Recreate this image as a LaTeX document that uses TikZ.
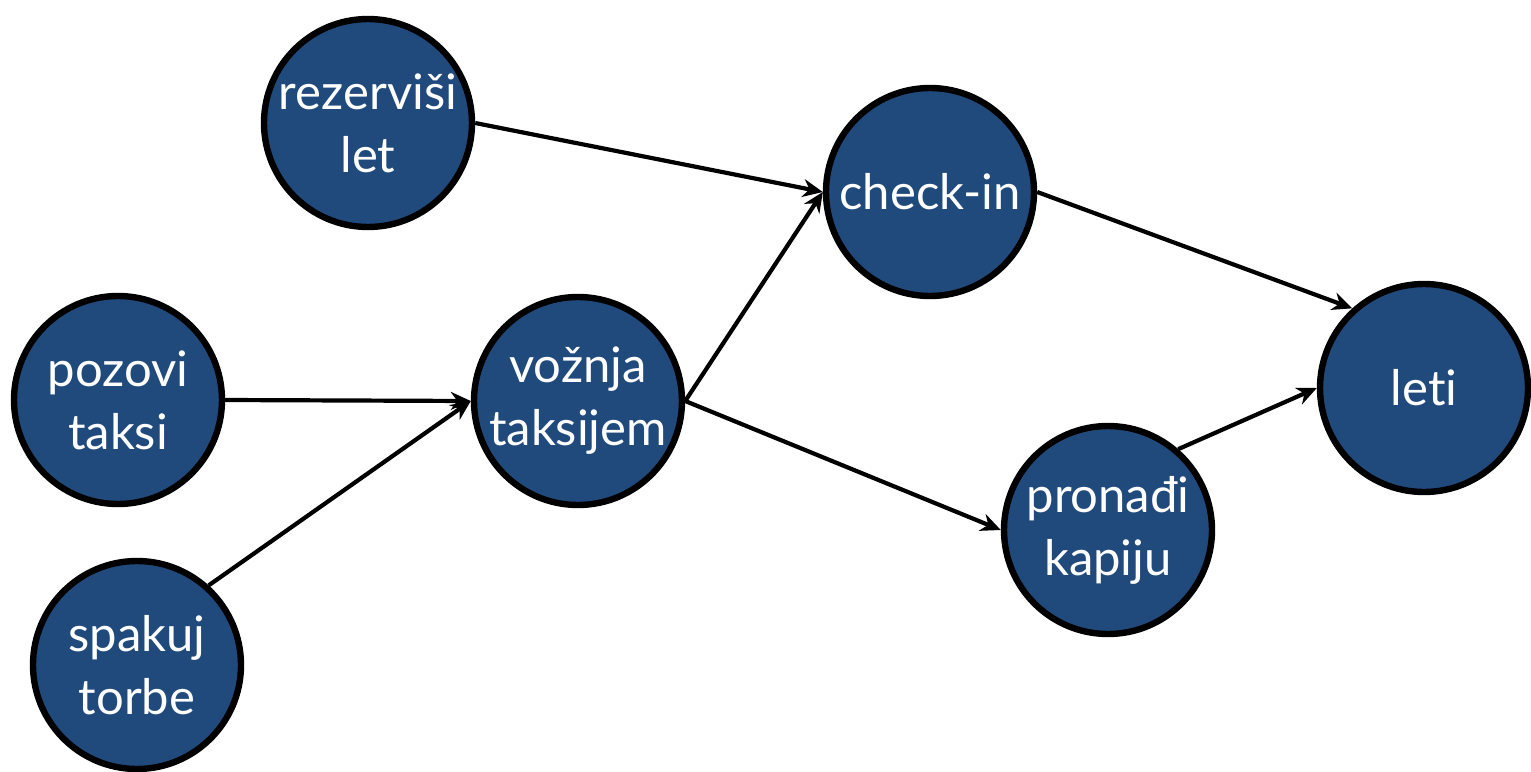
\documentclass[tikz,border=0pt]{standalone}
\usepackage{fontspec}
\setmainfont{Lato}[Ligatures=NoCommon]
\usetikzlibrary{arrows.meta}
\definecolor{taskblue}{RGB}{33,74,124}
\tikzset{
  task/.style={circle, draw=black, line width=3.2pt, fill=taskblue,
    minimum size=104pt, inner sep=0pt, text=white, align=center,
    font=\fontsize{24.5}{31.5}\selectfont},
  link/.style={line width=2.1pt, -{Stealth[length=10pt,width=9pt]}}
}
\begin{document}
\begin{tikzpicture}[x=0.5pt,y=-0.5pt]
  \useasboundingbox (0,0) rectangle (1531,771);
  % activities
  \node[task] (rez) at (368,123) {rezerviši\\let};
  \node[task] (chk) at (930,192) {check-in};
  \node[task] (leti) at (1424,388) {leti};
  \node[task] (poz) at (118,400) {pozovi\\taksi};
  \node[task] (voz) at (578,401) {vožnja\\taksijem};
  \node[task] (pro) at (1108,530) {pronađi\\kapiju};
  \node[task] (spa) at (137,665) {spakuj\\torbe};
  % dependencies
  \draw[link] (rez.east) -- (chk.west);
  \draw[link] (poz.east) -- (voz.west);
  \draw[link] (spa.48) -- (voz.west);
  \draw[link] (voz.east) -- (chk.west);
  \draw[link] (voz.east) -- (pro.west);
  \draw[link] (chk.east) -- (leti.132);
  \draw[link] (pro.49) -- (leti.west);
\end{tikzpicture}
\end{document}
